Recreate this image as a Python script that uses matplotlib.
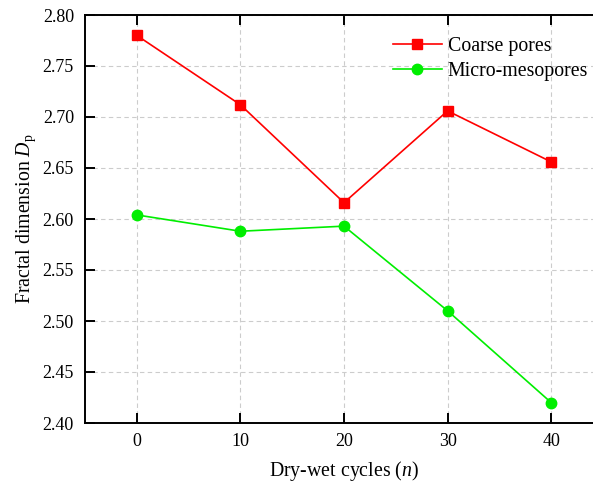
import matplotlib
matplotlib.use("Agg")
import matplotlib.pyplot as plt

plt.rcParams['font.family'] = ['Liberation Serif', 'DejaVu Serif']
plt.rcParams['mathtext.fontset'] = 'custom'
plt.rcParams['mathtext.rm'] = 'Liberation Serif'
plt.rcParams['mathtext.it'] = 'Liberation Serif:italic'

cycles = [0, 10, 20, 30, 40]
coarse = [2.780, 2.712, 2.616, 2.706, 2.656]
micro = [2.604, 2.588, 2.593, 2.510, 2.420]
yticks = [2.40, 2.45, 2.50, 2.55, 2.60, 2.65, 2.70, 2.75, 2.80]

W, H = 593, 488
fig = plt.figure(figsize=(W / 100, H / 100), dpi=100)
left, right, top, bottom = 85, 603, 15, 423
ax = fig.add_axes([left / W, 1 - bottom / H, (right - left) / W, (bottom - top) / H])

ax.plot(cycles, coarse, color='#ff0000', lw=1.2, marker='s', ms=7.0,
        label='Coarse pores')
ax.plot(cycles, micro, color='#00ee00', lw=1.2, marker='o', ms=7.5,
        label='Micro-mesopores')

ax.set_xlim(-5, 45)
ax.set_ylim(2.40, 2.80)
ax.set_xticks(cycles)
ax.set_yticks(yticks)
ax.set_yticklabels([f'{v:.2f}' for v in yticks])
ax.grid(True, color='#cccccc', ls=(0, (4, 3)), lw=0.8)
ax.set_axisbelow(True)
for s in ax.spines.values():
    s.set_linewidth(1.4)
ax.tick_params(direction='in', length=7, width=1.4, labelsize=13,
               top=True, right=True)
ax.tick_params(axis='y', pad=8)
ax.tick_params(axis='x', pad=7)

ax.set_xlabel(r'Dry-wet cycles ($n$)', fontsize=14.3, labelpad=7)
ax.set_ylabel(r'Fractal dimension $D_\mathrm{p}$', fontsize=14.3, labelpad=3)

fig.legend(loc='upper left', bbox_to_anchor=(385 / W, 1 - 29 / H),
           frameon=False, fontsize=14.3, handlelength=2.45, handletextpad=0.3,
           labelspacing=0.3, borderaxespad=0)

fig.savefig('out.png', dpi=100)
